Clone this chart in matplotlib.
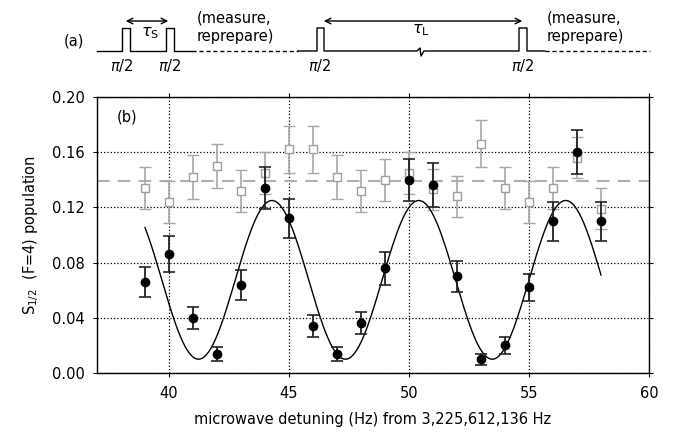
import numpy as np
import matplotlib.pyplot as plt

# detuning (Hz) from 3,225,612,136 Hz
detuning = [39, 40, 41, 42, 43, 44, 45, 46, 47, 48, 49, 50, 51, 52, 53, 54, 55, 56, 57, 58]

# short-tau (grey open squares)
pop_short = [0.134, 0.124, 0.142, 0.150, 0.132, 0.145, 0.162, 0.162, 0.142, 0.132,
             0.140, 0.145, 0.133, 0.128, 0.166, 0.134, 0.124, 0.134, 0.156, 0.119]
err_short = [0.015, 0.015, 0.016, 0.016, 0.015, 0.015, 0.017, 0.017, 0.016, 0.015,
             0.015, 0.015, 0.015, 0.015, 0.017, 0.015, 0.015, 0.015, 0.015, 0.015]

# long-tau (black filled circles)
pop_long = [0.066, 0.086, 0.040, 0.014, 0.064, 0.134, 0.112, 0.034, 0.014, 0.036,
            0.076, 0.140, 0.136, 0.070, 0.010, 0.020, 0.062, 0.110, 0.160, 0.110]
err_long = [0.011, 0.013, 0.008, 0.005, 0.011, 0.015, 0.014, 0.008, 0.005, 0.008,
            0.012, 0.015, 0.016, 0.011, 0.004, 0.006, 0.010, 0.014, 0.016, 0.014]

# mean of short-tau data
mean_short = 0.139

# fringe fit parameters: offset, amplitude, period (Hz), position of a maximum (Hz)
fit_offset = 0.0675
fit_amp = 0.0575
fit_period = 6.12
fit_peak = 44.29

fig = plt.figure(figsize=(6.73, 4.32), dpi=100)
ax = fig.add_axes([97/673, 1 - 373/432, (649 - 97)/673, (373 - 97)/432])

ax.errorbar(detuning, pop_short, yerr=err_short, fmt='s', ms=5.5, mfc='white',
            mec='#a0a0a0', ecolor='#a8a8a8', elinewidth=1.2, capsize=4, capthick=1.2,
            mew=1.0, zorder=3)
ax.axhline(mean_short, color='#b0b0b0', lw=1.5, ls=(0, (6, 4)), zorder=2)

xf = np.linspace(detuning[0], detuning[-1], 400)
yf = fit_offset + fit_amp * np.cos(2 * np.pi * (xf - fit_peak) / fit_period)
ax.plot(xf, yf, color='black', lw=1.0, zorder=4)

ax.errorbar(detuning, pop_long, yerr=err_long, fmt='o', ms=6, color='black',
            ecolor='#222222', elinewidth=1.3, capsize=4, capthick=1.2, zorder=5)

ax.set_xlim(37, 60)
ax.set_ylim(0, 0.20)
ax.set_xticks([40, 45, 50, 55, 60])
ax.set_yticks([0.00, 0.04, 0.08, 0.12, 0.16, 0.20])
ax.set_yticklabels(['0.00', '0.04', '0.08', '0.12', '0.16', '0.20'])
ax.grid(True, color='black', ls=':', lw=0.9)
ax.tick_params(direction='out', length=3, top=True, right=True, labelsize=10.5,
               pad=6)
for s in ax.spines.values():
    s.set_linewidth(1.0)
ax.set_xlabel('microwave detuning (Hz) from 3,225,612,136 Hz', fontsize=10.5,
              labelpad=8)
ax.set_ylabel('S$_{1/2}$  (F=4) population', fontsize=10.5, labelpad=8)
ax.text(0.035, 0.91, '(b)', transform=ax.transAxes, fontsize=10.5)

# timing diagram (a), in pixel coordinates
d = fig.add_axes([0, 0, 1, 1], zorder=-1)
d.set_xlim(0, 673)
d.set_ylim(432, 0)
d.axis('off')
base, top = 51, 28
kw = dict(color='black', lw=1.0)
d.plot([97, 122, 122, 130, 130, 166, 166, 174, 174, 192],
       [base, base, top, top, base, base, top, top, base, base], **kw)
d.plot([192, 298], [base, base], color='black', lw=1.0, ls=(0, (3, 2)))
d.plot([298, 317, 317, 324, 324, 417, 420, 421, 424, 519, 519, 527, 527, 545],
       [base, base, top, top, base, base, 48, 56, base, base, top, top, base, base],
       **kw)
d.plot([545, 650], [base, base], color='black', lw=1.0, ls=(0, (3, 2)))
d.annotate('', xy=(123, 21), xytext=(171, 21),
           arrowprops=dict(arrowstyle='<->', lw=1.0, color='black'))
d.annotate('', xy=(321, 21), xytext=(525, 21),
           arrowprops=dict(arrowstyle='<->', lw=1.0, color='black'))
tf = 10.5
d.text(74, 41, '(a)', fontsize=tf, va='center', ha='center')
d.text(150, 33, r'$\tau_{\rm S}$', fontsize=tf + 1, ha='center', va='center')
d.text(421, 30, r'$\tau_{\rm L}$', fontsize=tf + 1, ha='center', va='center')
for xp in [122, 170, 320, 523]:
    d.text(xp, 66, r'$\pi$/2', fontsize=tf, ha='center', va='center')
for xp in [197, 547]:
    d.text(xp, 18, '(measure,', fontsize=tf, ha='left', va='center')
    d.text(xp, 36, 'reprepare)', fontsize=tf, ha='left', va='center')

fig.savefig('out.png', dpi=100)
